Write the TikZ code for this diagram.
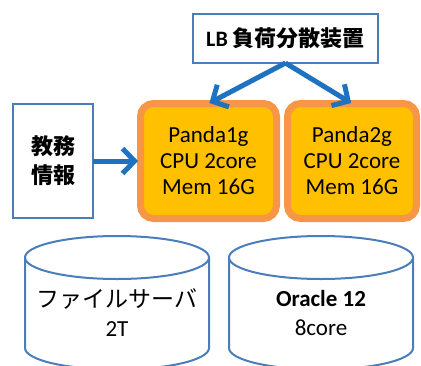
\documentclass[tikz,border=0pt]{standalone}
\usepackage{fontspec}
\setmainfont{Carlito}
\newfontfamily\jp{Noto Sans CJK JP}
\usetikzlibrary{arrows.meta}
\definecolor{frameblue}{HTML}{4A7EBB}
\definecolor{arrowblue}{HTML}{1F72C0}
\definecolor{rimorange}{HTML}{F79646}
\definecolor{boxgold}{HTML}{FFC000}
\tikzset{
  plainbox/.style={draw=frameblue, line width=2pt, fill=white, inner sep=0pt, outer sep=0pt, align=center},
  serverbox/.style={draw=rimorange, line width=7pt, fill=boxgold, rounded corners=13pt,
    inner sep=0pt, outer sep=0pt, align=center, font=\fontsize{23}{26}\selectfont},
  flow/.style={draw=arrowblue, line width=5pt, -{Straight Barb[length=12pt,width=25pt]}},
  drum/.style={draw=frameblue, line width=2pt},
  drumtext/.style={align=center, font=\fontsize{23}{29}\selectfont},
}
\begin{document}
\begin{tikzpicture}[x=1pt,y=1pt]
  \useasboundingbox (0,0) rectangle (421,-365);
  \clip (0,0) rectangle (421,-365);

  % load balancer
  \node[plainbox, minimum width=185, minimum height=49, font=\fontsize{22}{26}\selectfont\bfseries]
    (lb) at (285.5,-38.5) {LB {\jp 負荷分散装置}};

  % client side
  \node[plainbox, minimum width=80, minimum height=114, font=\fontsize{22}{29}\selectfont\bfseries\jp]
    (kyomu) at (53,-161) {教務\\情報};

  % application servers
  \node[serverbox, minimum width=136, minimum height=115] (p1) at (208.5,-161)
    {Panda1g\\CPU 2core\\Mem 16G};
  \node[serverbox, minimum width=129, minimum height=115] (p2) at (352,-161)
    {Panda2g\\CPU 2core\\Mem 16G};

  % connectors
  \draw[flow, shorten >=1pt] (lb.south) -- (p1.north);
  \draw[flow, shorten >=1pt] (lb.south) -- (p2.north);
  \draw[flow, shorten >=2.5pt] (kyomu.east) -- (p1.west);

  % storage drums
  \foreach \cx in {117,321} {
    \draw[drum, fill=white] (\cx-92,-257.5) -- (\cx-92,-348)
      arc[start angle=180, end angle=360, x radius=92, y radius=21.5]
      -- (\cx+92,-257.5);
    \draw[drum] (\cx,-257.5) ellipse[x radius=92, y radius=21.5];
  }
  \node[drumtext] (fs) at (117,-313) {{\jp ファイルサーバ}\\2T};
  \node[drumtext] (ora) at (321,-313) {\textbf{Oracle 12}\\8core};
\end{tikzpicture}
\end{document}
